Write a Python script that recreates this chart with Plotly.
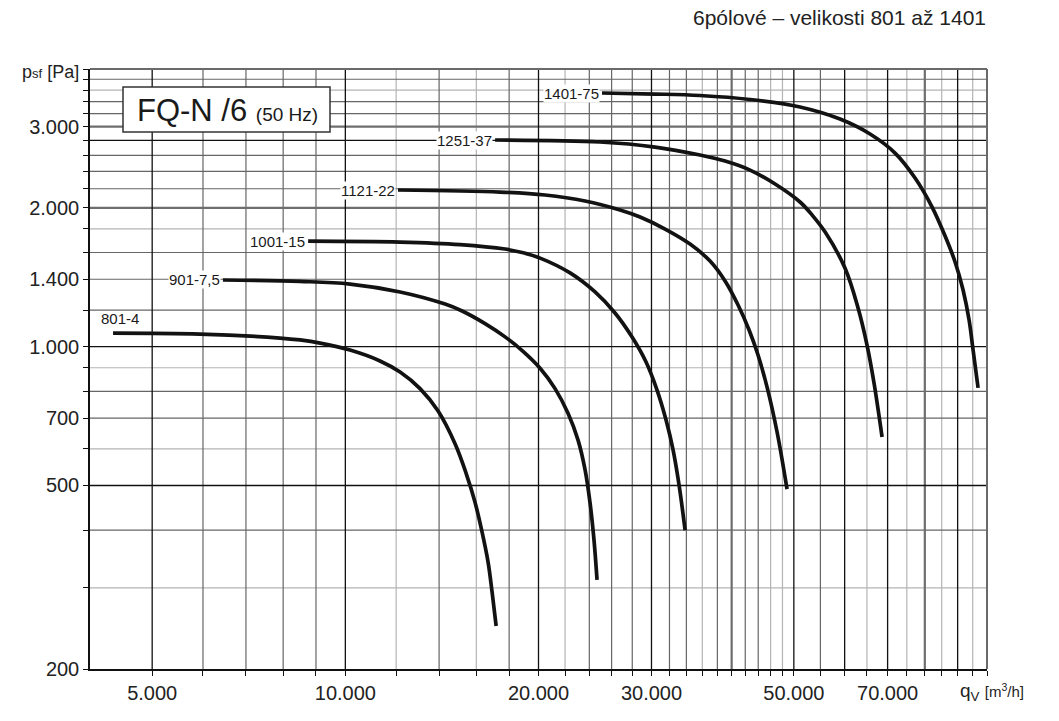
import numpy as np
import plotly.graph_objects as go

# ---------------- data ----------------
curve_names = ["801-4", "901-7,5", "1001-15", "1121-22", "1251-37", "1401-75"]

q_801 = [4345, 5935, 7910, 8500, 9135, 10170, 11325, 12170, 13075, 13950, 14830, 15420, 15925, 16335, 16690, 16930, 17180]
p_801 = [1070, 1065, 1044, 1034, 1018, 983, 931, 881, 811, 725, 615, 532, 460, 396, 341, 294, 248]

q_901 = [6445, 8500, 10170, 12170, 14305, 15205, 16510, 17740, 18920, 20115, 21225, 22235, 23050, 23635, 24065, 24415, 24675]
p_901 = [1395, 1385, 1367, 1314, 1237, 1195, 1122, 1050, 977, 898, 811, 717, 627, 541, 458, 379, 312]

q_1001 = [8750, 12170, 15095, 17740, 18855, 20115, 22400, 24500, 26320, 27980, 29420, 30605, 31610, 32415, 33120, 33845]
p_1001 = [1694, 1686, 1665, 1628, 1600, 1556, 1445, 1314, 1183, 1049, 926, 805, 693, 597, 501, 400]

q_1121 = [12080, 17420, 20480, 23635, 26795, 28795, 31500, 34455, 37015, 39065, 40930, 42580, 43970, 45420, 47080, 48795]
p_1121 = [2186, 2164, 2132, 2069, 1978, 1910, 1799, 1669, 1533, 1388, 1231, 1087, 959, 817, 653, 491]

q_1251 = [17115, 24940, 30385, 35705, 39065, 42730, 46745, 51120, 53400, 55945, 60070, 62960, 65015, 66670, 68620]
p_1251 = [2806, 2778, 2709, 2603, 2526, 2415, 2252, 2059, 1929, 1772, 1481, 1213, 1008, 834, 637]

q_1401 = [25120, 30385, 35705, 42730, 51120, 59010, 65725, 71900, 77250, 82120, 86040, 89180, 91775, 93775, 95130, 96850]
p_1401 = [3548, 3530, 3504, 3435, 3308, 3115, 2891, 2629, 2321, 2008, 1737, 1526, 1327, 1142, 983, 814]

x_range = [4000, 100000]
y_range = [200, 4000]

# tick labels
x_label_vals = [5000, 10000, 20000, 30000, 50000, 70000]
x_label_text = ["5.000", "10.000", "20.000", "30.000", "50.000", "70.000"]
y_label_vals = [200, 500, 700, 1000, 1400, 2000, 3000]
y_label_text = ["200", "500", "700", "1.000", "1.400", "2.000", "3.000"]

# grid line groups
x_grid_black = [5000, 10000, 20000, 30000, 50000, 60000, 70000, 90000]
x_grid_thick = [40000, 80000]
x_grid_mid = [6000, 7000, 8000, 9000, 14000, 18000, 24000, 26000, 28000, 32000, 34000,
              38000, 42000, 44000, 55000]
x_grid_light = [12000, 16000, 22000, 36000, 46000, 48000, 65000, 75000, 85000, 95000]

y_grid_black = [500, 1000, 2800]
y_grid_thick = [2000, 3000]
y_grid_mid = [400, 700, 800, 1200, 1400, 1600, 2200, 2400, 2600, 3200, 3400, 3800]
y_grid_light = [300, 600, 900, 1800, 3600]

FONT = "Liberation Sans, Arial, Helvetica, sans-serif"

fig = go.Figure()


def add_grid(xv, yv, color, width):
    xs, ys = [], []
    for v in xv:
        xs += [v, v, None]
        ys += [y_range[0], y_range[1], None]
    for v in yv:
        xs += [x_range[0], x_range[1], None]
        ys += [v, v, None]
    fig.add_trace(go.Scatter(x=xs, y=ys, mode="lines", hoverinfo="skip",
                             line=dict(color=color, width=width), showlegend=False))


add_grid(x_grid_light, y_grid_light, "#b4b4b4", 1.2)
add_grid(x_grid_mid, y_grid_mid, "#666666", 1.2)
add_grid(x_grid_thick, y_grid_thick, "#6e6e6e", 2.2)
add_grid(x_grid_black, y_grid_black, "#111111", 1.3)

curves = [(q_801, p_801), (q_901, p_901), (q_1001, p_1001),
          (q_1121, p_1121), (q_1251, p_1251), (q_1401, p_1401)]

for name, (q, p) in zip(curve_names, curves):
    fig.add_trace(go.Scatter(x=q, y=p, mode="lines", name=name, showlegend=False,
                             line=dict(color="#121212", width=3.7, shape="spline", smoothing=1.0)))

# curve labels
for i, (name, (q, p)) in enumerate(zip(curve_names, curves)):
    if i == 0:
        fig.add_annotation(x=np.log10(q[0]), y=np.log10(p[0]), text=name, showarrow=False,
                           xanchor="center", yanchor="middle", xshift=7, yshift=15,
                           font=dict(family=FONT, size=15, color="#1a1a1a"))
    else:
        fig.add_annotation(x=np.log10(q[0]), y=np.log10(p[0]), text=name, showarrow=False,
                           xanchor="right", yanchor="middle", xshift=-2,
                           bgcolor="white", borderpad=0,
                           font=dict(family=FONT, size=15, color="#1a1a1a"))

x_tickvals = sorted(set(x_grid_black + x_grid_thick + x_grid_mid + x_grid_light + [100000]))
x_ticktext = [x_label_text[x_label_vals.index(v)] if v in x_label_vals else "" for v in x_tickvals]
y_tickvals = sorted(set(y_grid_black + y_grid_thick + y_grid_mid + y_grid_light + [200, 4000]))
y_ticktext = [y_label_text[y_label_vals.index(v)] if v in y_label_vals else "" for v in y_tickvals]

# the page body has an 8px margin, so the figure is sized/offset for it
fig.update_layout(
    width=1051, height=713,
    margin=dict(l=82, r=72, t=61, b=52),
    paper_bgcolor="white", plot_bgcolor="white",
    font=dict(family=FONT, color="#222222"),
    xaxis=dict(type="log", range=[np.log10(x_range[0]), np.log10(x_range[1])],
               showgrid=False, zeroline=False, automargin=False, tickangle=0,
               tickmode="array", tickvals=x_tickvals, ticktext=x_ticktext,
               ticks="outside", ticklen=5, tickwidth=1, tickcolor="#111111",
               showline=True, linecolor="#111111", linewidth=1.5,
               tickfont=dict(family=FONT, size=20, color="#222222"),
               ticklabelstandoff=0),
    yaxis=dict(type="log", range=[np.log10(y_range[0]), np.log10(y_range[1])],
               showgrid=False, zeroline=False, automargin=False,
               tickmode="array", tickvals=y_tickvals, ticktext=y_ticktext,
               ticks="outside", ticklen=5, tickwidth=1, tickcolor="#111111",
               showline=True, linecolor="#111111", linewidth=1.5,
               tickfont=dict(family=FONT, size=20, color="#222222")),
)

# top and right frame (grey)
fig.add_shape(type="line", xref="paper", yref="paper", x0=0, x1=1, y0=1, y1=1,
              line=dict(color="#6a6a6a", width=2), layer="above")
fig.add_shape(type="line", xref="paper", yref="paper", x0=1, x1=1, y0=0, y1=1,
              line=dict(color="#6a6a6a", width=2), layer="above")

# title box
fig.add_shape(type="rect", xref="paper", yref="paper",
              x0=(123 - 90) / 897, x1=(330 - 90) / 897,
              y0=(669 - 132) / 600, y1=(669 - 87) / 600,
              fillcolor="white", line=dict(color="#333333", width=1.5), layer="above")
fig.add_annotation(xref="paper", yref="paper", x=(135 - 90) / 897, y=(669 - 110) / 600,
                   xanchor="left", yanchor="middle", showarrow=False,
                   text="FQ-N /6 <span style='font-size:19px'>(50 Hz)</span>",
                   font=dict(family=FONT, size=31, color="#1a1a1a"))

# top-right caption
fig.add_annotation(xref="paper", yref="paper", x=(988 - 90) / 897, y=(669 - 17) / 600,
                   xanchor="right", yanchor="middle", showarrow=False,
                   text="6pólové – velikosti 801 až 1401",
                   font=dict(family=FONT, size=21, color="#222222"))

# axis titles
fig.add_annotation(xref="paper", yref="paper", x=(81 - 90) / 897, y=(669 - 72) / 600,
                   xanchor="right", yanchor="middle", showarrow=False,
                   text="p<span style='font-size:13px'>sf</span> [Pa]",
                   font=dict(family=FONT, size=18, color="#222222"))
fig.add_annotation(xref="paper", yref="paper", x=(958 - 90) / 897, y=(669 - 692) / 600,
                   xanchor="left", yanchor="middle", showarrow=False,
                   text="q<sub>V</sub> <span style='font-size:15px'>[m<sup>3</sup>/h]</span>",
                   font=dict(family=FONT, size=19, color="#222222"))

fig.write_html("out.html")
